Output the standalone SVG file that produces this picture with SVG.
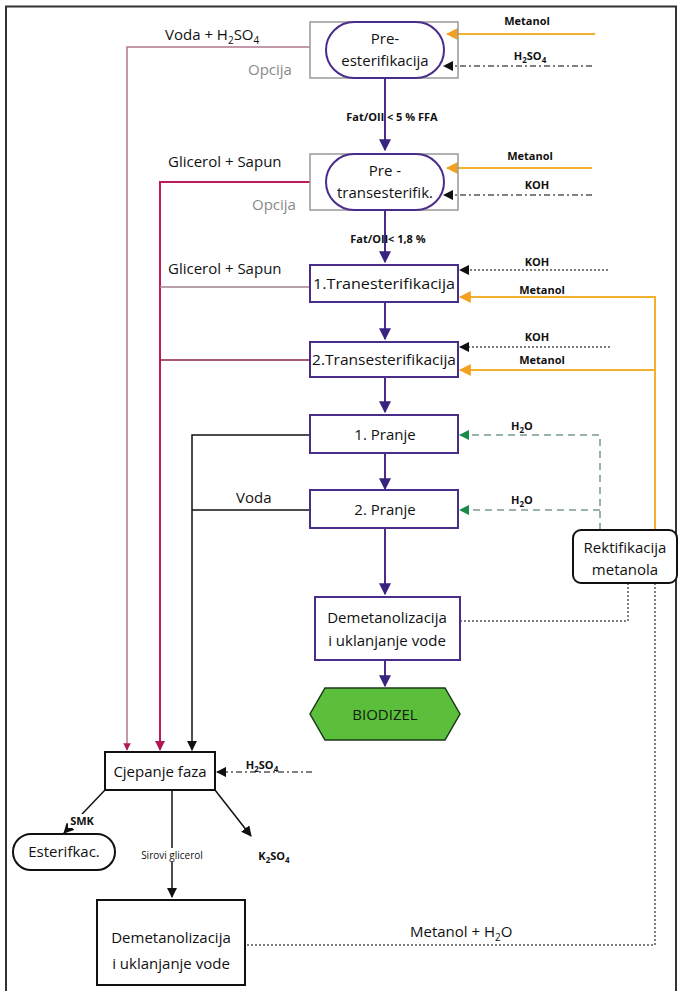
<svg xmlns="http://www.w3.org/2000/svg" width="682" height="991" viewBox="0 0 682 991">
<style>
text{font-family:"Open Sans","DejaVu Sans",sans-serif;fill:#111}
.n{font-size:15px;text-anchor:middle}
.l{font-size:15px}
.s{font-size:11px;font-weight:bold;text-anchor:middle}
.r{font-size:10px;text-anchor:middle}
.g{font-size:15px;fill:#888}
.box{fill:#fff;stroke:#4a2d8a;stroke-width:2}
.opt{fill:none;stroke:#999;stroke-width:1.5}
.bk{fill:#fff;stroke:#111;stroke-width:2}
.pu{stroke:#4a2d8a;stroke-width:2;fill:none}
.or{stroke:#f3b030;stroke-width:2;fill:none}
.dd{stroke:#555;stroke-width:1.5;fill:none;stroke-dasharray:6 3 2 3}
.dt{stroke:#555;stroke-width:1.5;fill:none;stroke-dasharray:2 2}
.gr{stroke:#7a9a8a;stroke-width:1.5;fill:none;stroke-dasharray:7 5}
.bl{stroke:#111;stroke-width:1.5;fill:none}
</style>
<defs>
<marker id="ap" viewBox="0 0 10 10" refX="9" refY="5" markerWidth="6" markerHeight="6" orient="auto"><path d="M0,0L10,5L0,10z" fill="#3a2380"/></marker>
<marker id="ao" viewBox="0 0 10 10" refX="9" refY="5" markerWidth="6" markerHeight="6" orient="auto"><path d="M0,0L10,5L0,10z" fill="#f3a020"/></marker>
<marker id="ak" viewBox="0 0 10 10" refX="9" refY="5" markerWidth="7" markerHeight="7" orient="auto"><path d="M0,0L10,5L0,10z" fill="#111"/></marker>
<marker id="ag" viewBox="0 0 10 10" refX="9" refY="5" markerWidth="7" markerHeight="7" orient="auto"><path d="M0,0L10,5L0,10z" fill="#1a8a4a"/></marker>
<marker id="am" viewBox="0 0 10 10" refX="9" refY="5" markerWidth="5" markerHeight="5" orient="auto"><path d="M0,0L10,5L0,10z" fill="#b0185a"/></marker>
</defs>
<rect x="0" y="0" width="682" height="991" fill="#fff"/>
<path d="M6,991V6.5H676V991" fill="none" stroke="#333" stroke-width="2"/>

<g id="connectors">
<path class="pu" d="M385,78V150" marker-end="url(#ap)"/>
<path class="pu" d="M385,210V262" marker-end="url(#ap)"/>
<path class="pu" d="M385,302V339" marker-end="url(#ap)"/>
<path class="pu" d="M385,377V412" marker-end="url(#ap)"/>
<path class="pu" d="M385,453V489" marker-end="url(#ap)"/>
<path class="pu" d="M385,528V594" marker-end="url(#ap)"/>
<path class="pu" d="M385,660V686" marker-end="url(#ap)"/>
<path class="or" d="M595,34H447" marker-end="url(#ao)"/>
<path class="dd" d="M592,66H444" marker-end="url(#ak)"/>
<path class="or" d="M592,168H447" marker-end="url(#ao)"/>
<path class="dd" d="M592,195H444" marker-end="url(#ak)"/>
<path class="dt" d="M608,270H460" marker-end="url(#ak)"/>
<path class="or" d="M655,530V297H460" marker-end="url(#ao)"/>
<path class="dt" d="M610,347H460" marker-end="url(#ak)"/>
<path class="or" d="M655,370H460" marker-end="url(#ao)"/>
<path class="gr" d="M600,530V435H460" marker-end="url(#ag)"/>
<path class="gr" d="M600,510H460" marker-end="url(#ag)"/>
<path class="dt" d="M460,621H628V583"/>
<path class="dt" d="M655,583V945H245"/>
<path d="M310,47H127V750" fill="none" stroke="#b07890" stroke-width="1.5" marker-end="url(#am)"/>
<path d="M310,182H160V750" fill="none" stroke="#c0185a" stroke-width="2" marker-end="url(#am)"/>
<path d="M310,287H160" fill="none" stroke="#a08090" stroke-width="1.5"/>
<path d="M310,360H160" fill="none" stroke="#8a2040" stroke-width="1.5"/>
<path class="bl" d="M310,435H192V750" marker-end="url(#ak)"/>
<path class="bl" d="M310,510H192"/>
<path class="dd" d="M312,772H217" marker-end="url(#ak)"/>
<path class="bl" d="M105,790L64,833" marker-end="url(#ak)"/>
<path class="bl" d="M215,790L251,836" marker-end="url(#ak)"/>
<path class="bl" d="M172,790V897" marker-end="url(#ak)"/>
</g>

<g id="labels">
<text class="l" x="165" y="40">Voda + H<tspan dy="4" font-size="10">2</tspan><tspan dy="-4">SO</tspan><tspan dy="4" font-size="10">4</tspan></text>
<text class="g" x="248" y="75">Opcija</text>
<text class="s" x="527" y="25">Metanol</text>
<text class="s" x="530" y="60">H<tspan dy="3" font-size="8">2</tspan><tspan dy="-3">SO</tspan><tspan dy="3" font-size="8">4</tspan></text>
<text class="s" x="392" y="121" font-size="10">Fat/OIl &lt; 5 % FFA</text>
<text class="l" x="168" y="167">Glicerol + Sapun</text>
<text class="g" x="252" y="210">Opcija</text>
<text class="s" x="530" y="160">Metanol</text>
<text class="s" x="537" y="189" font-size="12">KOH</text>
<text class="s" x="388" y="243" font-size="10">Fat/OIl&lt; 1,8 %</text>
<text class="l" x="168" y="274">Glicerol + Sapun</text>
<text class="s" x="537" y="266" font-size="12">KOH</text>
<text class="s" x="542" y="294">Metanol</text>
<text class="s" x="537" y="341" font-size="12">KOH</text>
<text class="s" x="542" y="364">Metanol</text>
<text class="s" x="522" y="430" font-size="12">H<tspan dy="3" font-size="8">2</tspan><tspan dy="-3">O</tspan></text>
<text class="l" x="236" y="503">Voda</text>
<text class="s" x="522" y="504" font-size="12">H<tspan dy="3" font-size="8">2</tspan><tspan dy="-3">O</tspan></text>
<text class="s" x="262" y="769">H<tspan dy="3" font-size="8">2</tspan><tspan dy="-3">SO</tspan><tspan dy="3" font-size="8">4</tspan></text>
<rect x="68" y="814" width="28" height="14" fill="#fff"/>
<text class="s" x="82" y="825">SMK</text>
<rect x="132" y="848" width="80" height="14" fill="#fff"/>
<text class="r" x="172" y="859">Sirovi glicerol</text>
<text class="s" x="274" y="860">K<tspan dy="3" font-size="8">2</tspan><tspan dy="-3">SO</tspan><tspan dy="3" font-size="8">4</tspan></text>
<text class="l" x="410" y="937">Metanol + H<tspan dy="4" font-size="10">2</tspan><tspan dy="-4">O</tspan></text>
</g>

<g id="pre-esterifikacija">
<rect class="opt" x="310" y="22" width="148" height="56"/>
<rect class="box" x="326" y="22" width="118" height="56" rx="28"/>
<text class="n" x="385" y="44">Pre-</text>
<text class="n" x="385" y="66">esterifikacija</text>
</g>
<g id="pre-transesterifik">
<rect class="opt" x="310" y="154" width="148" height="56"/>
<rect class="box" x="326" y="154" width="118" height="56" rx="28"/>
<text class="n" x="385" y="176">Pre -</text>
<text class="n" x="385" y="198">transesterifik.</text>
</g>
<g id="tranesterifikacija1">
<rect class="box" x="310" y="265" width="148" height="37"/>
<text class="n" x="384" y="289" textLength="142" lengthAdjust="spacingAndGlyphs">1.Tranesterifikacija</text>
</g>
<g id="transesterifikacija2">
<rect class="box" x="310" y="342" width="148" height="35"/>
<text class="n" x="384" y="365" textLength="144" lengthAdjust="spacingAndGlyphs">2.Transesterifikacija</text>
</g>
<g id="pranje1">
<rect class="box" x="310" y="415" width="148" height="38"/>
<text class="n" x="385" y="440">1. Pranje</text>
</g>
<g id="pranje2">
<rect class="box" x="310" y="490" width="148" height="38"/>
<text class="n" x="385" y="515">2. Pranje</text>
</g>
<g id="demetanolizacija1">
<rect class="box" x="315" y="597" width="145" height="63"/>
<text class="n" x="387" y="623">Demetanolizacija</text>
<text class="n" x="387" y="646">i uklanjanje vode</text>
</g>
<g id="biodizel">
<path d="M325,688H445L460,714L445,740H325L310,714Z" fill="#5cbf3c" stroke="#1a3a1a" stroke-width="1.5"/>
<text class="n" x="385" y="720" style="fill:#102010">BIODIZEL</text>
</g>
<g id="rektifikacija">
<rect class="bk" x="573" y="530" width="104" height="53" rx="8"/>
<text class="n" x="625" y="553">Rektifikacija</text>
<text class="n" x="625" y="575">metanola</text>
</g>
<g id="cjepanje">
<rect class="bk" x="105" y="752" width="110" height="38"/>
<text class="n" x="160" y="777">Cjepanje faza</text>
</g>
<g id="esterifkac">
<rect class="bk" x="13" y="834" width="102" height="36" rx="18"/>
<text class="n" x="64" y="857">Esterifkac.</text>
</g>
<g id="demetanolizacija2">
<rect class="bk" x="97" y="900" width="148" height="85"/>
<text class="n" x="171" y="943">Demetanolizacija</text>
<text class="n" x="171" y="969">i uklanjanje vode</text>
</g>
</svg>
